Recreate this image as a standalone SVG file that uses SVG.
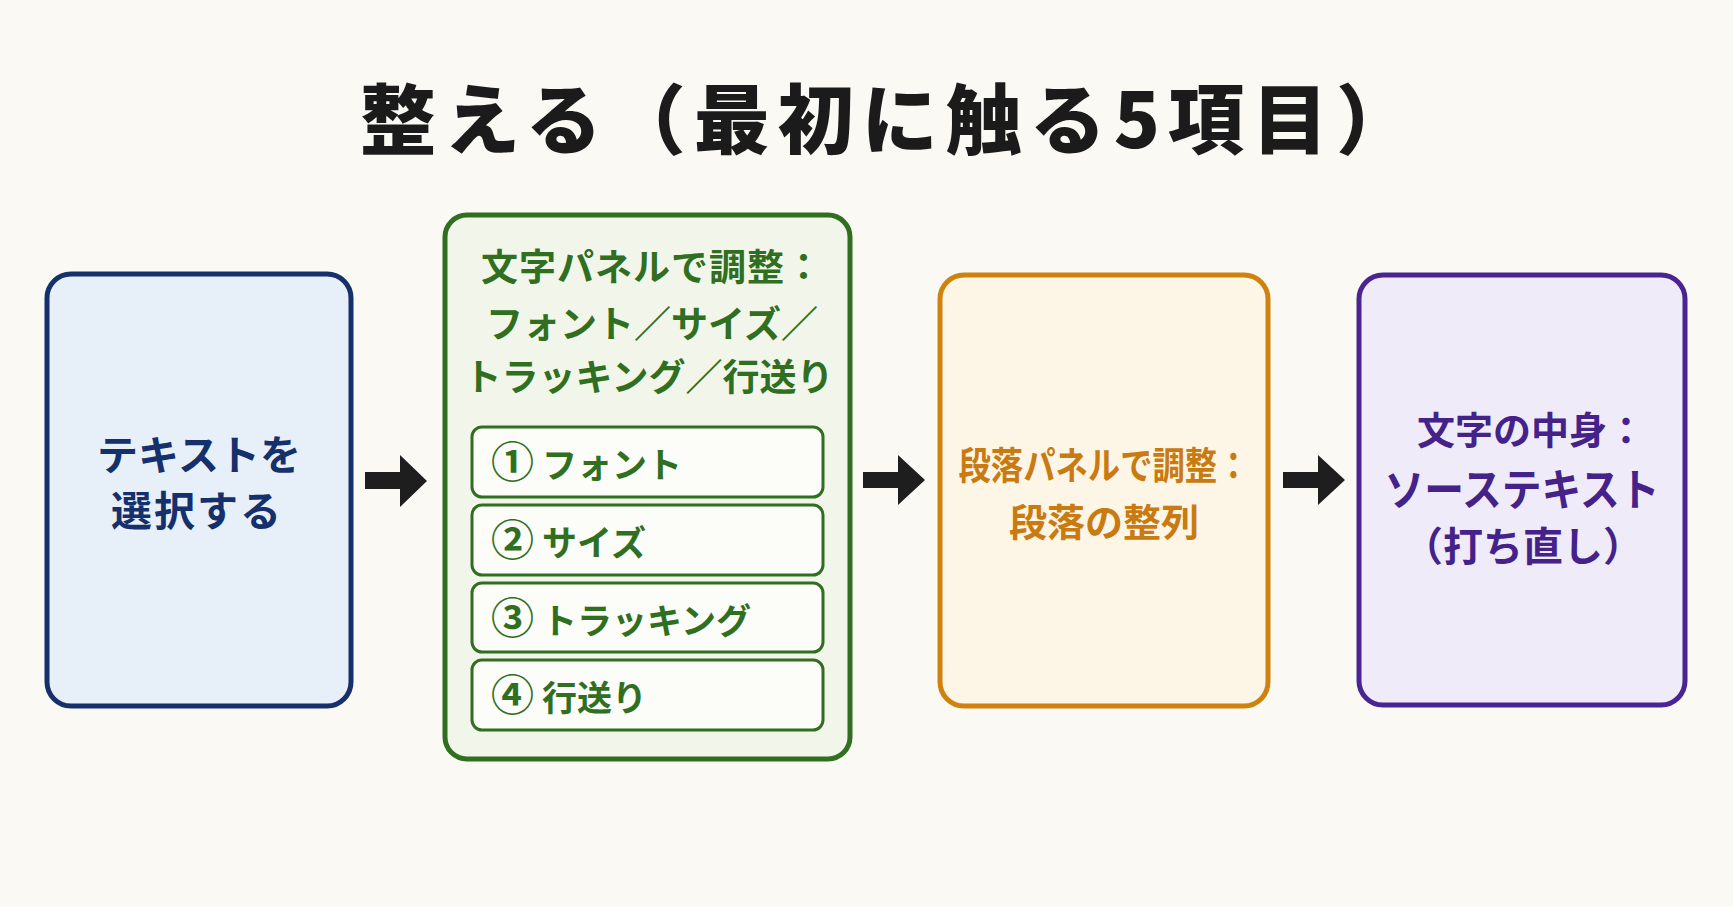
<svg xmlns="http://www.w3.org/2000/svg" width="1733" height="907" viewBox="0 0 1733 907">
<defs>
<style>
.t{font-family:"Noto Sans CJK JP","Noto Sans CJK SC",sans-serif;font-weight:700;text-anchor:middle}
.title{font-size:76px;fill:#1b1b1b;font-weight:900;letter-spacing:8px}
.box{stroke-width:5}
.sub{fill:#fcfcf8;stroke:#2f6f1f;stroke-width:3}
.gt{fill:#2f6f1f;font-size:37px}
.st{fill:#2f6f1f;font-size:35px;text-anchor:start}
.num{fill:#2f6f1f;font-size:43px;text-anchor:start;font-weight:700}
.arrow{fill:#1e1e1e}
</style>
</defs>
<rect width="1733" height="907" fill="#faf9f4"/>
<text class="t title" x="890" y="148">整える（最初に触る5項目）</text>
<g id="node-select">
<rect class="box" x="47" y="274" width="304" height="432" rx="24" fill="#e7eff9" stroke="#15306a"/>
<text class="t" x="199" y="470" font-size="41" fill="#15306a">テキストを</text>
<text class="t" x="197" y="526" font-size="41" fill="#15306a" letter-spacing="2">選択する</text>
</g>
<g id="node-char">
<rect class="box" x="445" y="215" width="405" height="544" rx="22" fill="#f2f6ea" stroke="#2f6f1f"/>
<text class="t gt" x="652" y="281" letter-spacing="1">文字パネルで調整：</text>
<text class="t gt" x="652" y="338">フォント／サイズ／</text>
<text class="t gt" x="649" y="391">トラッキング／行送り</text>
<rect class="sub" x="472" y="427" width="351" height="70" rx="10"/>
<text class="t num" x="491" y="478">①</text>
<text class="t st" x="542" y="478">フォント</text>
<rect class="sub" x="472" y="505" width="351" height="70" rx="10"/>
<text class="t num" x="491" y="556">②</text>
<text class="t st" x="542" y="556">サイズ</text>
<rect class="sub" x="472" y="583" width="351" height="69" rx="10"/>
<text class="t num" x="491" y="634">③</text>
<text class="t st" x="542" y="634">トラッキング</text>
<rect class="sub" x="472" y="660" width="351" height="70" rx="10"/>
<text class="t num" x="491" y="711">④</text>
<text class="t st" x="542" y="711">行送り</text>
</g>
<g id="node-para">
<rect class="box" x="940" y="275" width="328" height="431" rx="24" fill="#fdf5e6" stroke="#d0820f"/>
<text class="t" x="1104" y="479" font-size="38" fill="#c97a10" textLength="291" lengthAdjust="spacingAndGlyphs">段落パネルで調整：</text>
<text class="t" x="1104" y="536" font-size="38" fill="#c97a10">段落の整列</text>
</g>
<g id="node-source">
<rect class="box" x="1359" y="275" width="326" height="430" rx="24" fill="#efebf9" stroke="#4a2491"/>
<text class="t" x="1531" y="444" font-size="38" fill="#44228a">文字の中身：</text>
<text class="t" x="1522" y="506" font-size="44" fill="#44228a" textLength="275" lengthAdjust="spacingAndGlyphs">ソーステキスト</text>
<text class="t" x="1523" y="561" font-size="40" fill="#44228a">（打ち直し）</text>
</g>
<g id="connectors">
<polygon class="arrow" points="365,472 400,472 400,455 427,481 400,507 400,489 365,489"/>
<polygon class="arrow" points="863,472 898,472 898,455 925,480 898,505 898,488 863,488"/>
<polygon class="arrow" points="1283,472 1318,472 1318,455 1345,480 1318,505 1318,488 1283,488"/>
</g>
</svg>
